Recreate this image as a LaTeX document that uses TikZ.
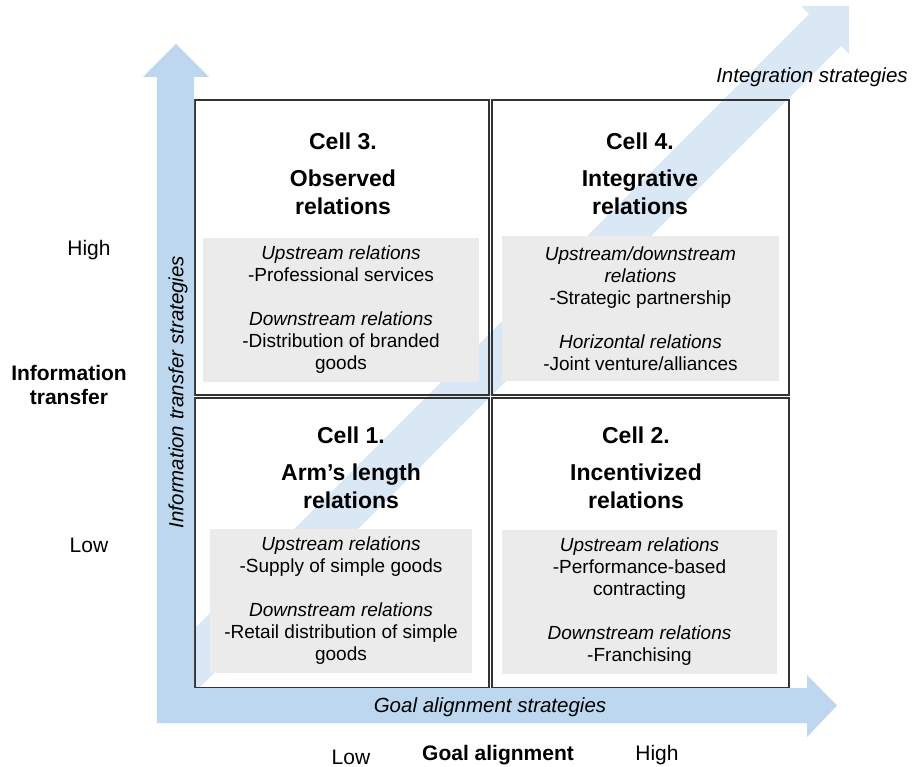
\documentclass[tikz,border=0pt]{standalone}
\usepackage{fontspec}
\setmainfont{Liberation Sans}
\definecolor{axisblue}{HTML}{BDD7EE}
\definecolor{diagblue}{HTML}{DAE8F6}
\definecolor{boxgrey}{HTML}{EBEBEB}
\definecolor{gridline}{HTML}{333333}
\tikzset{
  cellframe/.style={draw=gridline, line width=1.3pt},
  greybox/.style={rectangle, fill=boxgrey, inner sep=0pt, align=center,
                  font=\fontsize{19}{22}\selectfont, minimum width=#1, minimum height=144pt},
  celltitle/.style={anchor=north, inner sep=0pt, align=center,
                    font=\bfseries\fontsize{23}{28}\selectfont},
  axistext/.style={inner sep=0pt, font=\itshape\fontsize{20.5}{24}\selectfont},
  sidelabel/.style={inner sep=0pt, align=center, font=\fontsize{21}{24}\selectfont},
}

\begin{document}
\begin{tikzpicture}[x=1pt, y=-1pt]
\useasboundingbox (0,0) rectangle (918,767);
% diagonal arrow behind the grid
\fill[diagblue] (160,663) -- (809,14) -- (801,6) -- (849,6) -- (849,54) -- (841,46) -- (192,695) -- cycle;
% the four cells
\draw[cellframe] (195,100) rectangle (489,395);
\draw[cellframe] (492,100) rectangle (789,395);
\draw[cellframe] (195,398) rectangle (489,688);
\draw[cellframe] (492,398) rectangle (789,688);
% grey boxes
\node[greybox=276pt] (g3) at (341,310) {\textit{Upstream relations}\\-Professional services\\[22pt]\textit{Downstream relations}\\-Distribution of branded\\goods};
\node[greybox=277pt] (g4) at (640.5,308.5) {\textit{Upstream/downstream}\\\textit{relations}\\-Strategic partnership\\[22pt]\textit{Horizontal relations}\\-Joint venture/alliances};
\node[greybox=262pt] (g1) at (341,601) {\textit{Upstream relations}\\-Supply of simple goods\\[22pt]\textit{Downstream relations}\\-Retail distribution of simple\\goods};
\node[greybox=275pt] (g2) at (639.5,601.5) {\textit{Upstream relations}\\-Performance-based\\contracting\\[22pt]\textit{Downstream relations}\\-Franchising};
% titles
\node[celltitle] (t3) at (343,133) {Cell 3.\\[9pt]Observed\\relations};
\node[celltitle] (t4) at (640,133) {Cell 4.\\[9pt]Integrative\\relations};
\node[celltitle] (t1) at (351,427) {Cell 1.\\[9pt]Arm’s length\\relations};
\node[celltitle] (t2) at (636,427) {Cell 2.\\[9pt]Incentivized\\relations};
% axes
\fill[axisblue] (157,723) -- (157,77) -- (143,77) -- (176,44) -- (209,77) -- (194,77) -- (194,688)
  -- (807,688) -- (807,675) -- (837,705.5) -- (807,737) -- (807,723) -- cycle;
\node[axistext] (goalstrat) at (490,707) {Goal alignment strategies};
\node[axistext, rotate=90] (infostrat) at (178,392) {Information transfer strategies};
\node[axistext] (integstrat) at (812,77) {Integration strategies};
% side labels
\node[sidelabel] (yhigh) at (89,250) {High};
\node[sidelabel] (ylow) at (89,545) {Low};
\node[sidelabel, font=\bfseries\fontsize{21}{24}\selectfont] (ytitle) at (69,385) {Information\\transfer};
\node[sidelabel] (xlow) at (351,757) {Low};
\node[sidelabel, font=\bfseries\fontsize{21}{24}\selectfont] (xtitle) at (498,755) {Goal alignment};
\node[sidelabel] (xhigh) at (657,755) {High};
\end{tikzpicture}
\end{document}
